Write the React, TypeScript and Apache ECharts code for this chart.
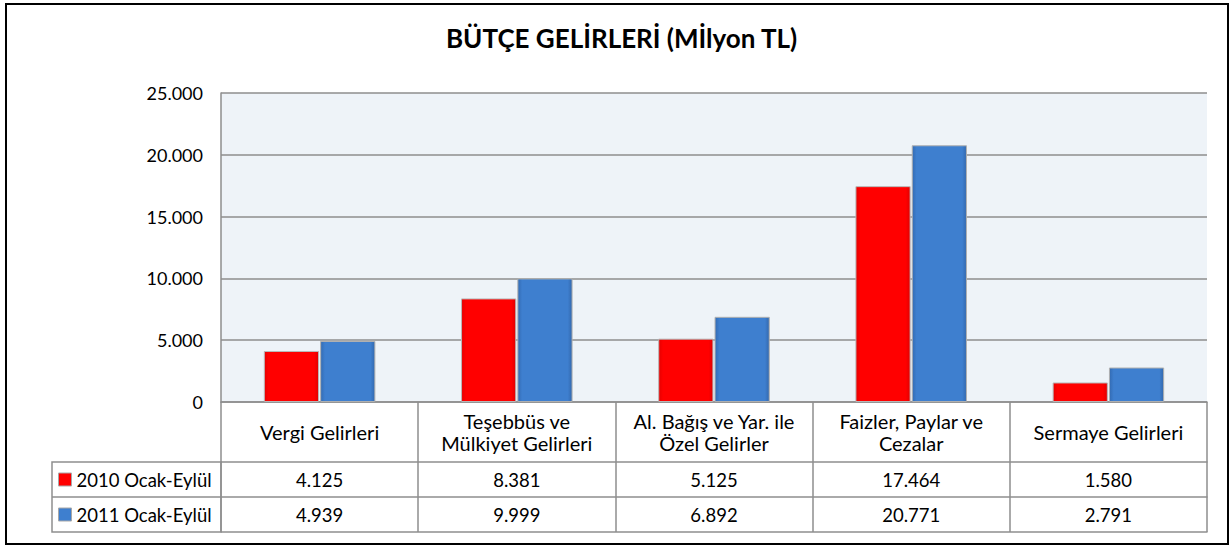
import React, { useEffect, useRef } from "react";
import * as echarts from "echarts";

const TITLE = "BÜTÇE GELİRLERİ (Mİlyon TL)";
const categories = [
  "Vergi Gelirleri",
  "Teşebbüs ve\nMülkiyet Gelirleri",
  "Al. Bağış ve Yar. ile\nÖzel Gelirler",
  "Faizler, Paylar ve\nCezalar",
  "Sermaye Gelirleri",
];
const seriesNames = ["2010 Ocak-Eylül", "2011 Ocak-Eylül"];
const values2010 = [4125, 8381, 5125, 17464, 1580];
const values2011 = [4939, 9999, 6892, 20771, 2791];
const yMin = 0;
const yMax = 25000;
const yInterval = 5000;

const FONT = "Lato, 'Noto Sans', sans-serif";
const GRID_LEFT = 221;
const GRID_RIGHT = 25;
const GRID_TOP = 93;
const GRID_BOTTOM = 144;
const W = 1232;
const H = 546;
const CAT_ROW = 60;
const ROW = 35;
const LINE = "#8E8E8E";

const fmt = (n: number) => String(n).replace(/\B(?=(\d{3})+(?!\d))/g, ".");

export default function App() {
  const ref = useRef<HTMLDivElement>(null);
  useEffect(() => {
    if (!ref.current) return;
    const chart = echarts.init(ref.current, undefined, { renderer: "svg" });
    const zeroY = H - GRID_BOTTOM;
    const row1Top = zeroY + CAT_ROW;
    const row2Top = row1Top + ROW;
    const tableBottom = row2Top + ROW;
    const legendLeft = 52;

    const extraAxis = (data: string[] | null, offset: number) => ({
      type: "category",
      position: "bottom",
      offset,
      data: data ?? categories.map(() => ""),
      axisLine: { show: true, lineStyle: { color: LINE, width: 1.5 } },
      axisTick: { show: false },
      axisLabel: {
        show: !!data,
        interval: 0,
        margin: ROW / 2,
        verticalAlign: "middle",
        color: "#000",
        fontFamily: FONT,
        fontSize: 18.5,
      },
      splitLine: { show: false },
    });

    const bevelRed = new echarts.graphic.LinearGradient(0, 0, 1, 0, [
      { offset: 0, color: "#E60000" },
      { offset: 0.08, color: "#FF0000" },
      { offset: 0.92, color: "#FF0000" },
      { offset: 1, color: "#E00000" },
    ]);
    const bevelBlue = new echarts.graphic.LinearGradient(0, 0, 1, 0, [
      { offset: 0, color: "#336BB3" },
      { offset: 0.08, color: "#3E7FCF" },
      { offset: 0.92, color: "#3E7FCF" },
      { offset: 1, color: "#3368AD" },
    ]);

    chart.setOption({
      animation: false,
      backgroundColor: "#fff",
      title: {
        text: TITLE,
        left: 446,
        top: 25,
        padding: 0,
        textStyle: { fontFamily: FONT, fontSize: 26, fontWeight: "bold", color: "#000" },
      },
      legend: {
        orient: "vertical",
        left: 58,
        top: row1Top + (ROW - 20) / 2,
        padding: 0,
        itemWidth: 13,
        itemHeight: 13,
        itemGap: ROW - 20,
        icon: "rect",
        itemStyle: { borderColor: "#A8A8A8", borderWidth: 1 },
        textStyle: { fontFamily: FONT, fontSize: 18.5, color: "#000", lineHeight: 20 },
        data: seriesNames,
      },
      grid: {
        left: GRID_LEFT,
        right: GRID_RIGHT,
        top: GRID_TOP,
        bottom: GRID_BOTTOM,
        show: true,
        backgroundColor: "#EEF3F8",
        borderWidth: 0,
        containLabel: false,
      },
      xAxis: [
        {
          type: "category",
          position: "bottom",
          data: categories,
          axisLine: { show: true, lineStyle: { color: LINE, width: 1.5 } },
          axisTick: { show: true, length: CAT_ROW + 2 * ROW, lineStyle: { color: LINE, width: 1.5 } },
          axisLabel: {
            interval: 0,
            margin: CAT_ROW / 2,
            verticalAlign: "middle",
            lineHeight: 22,
            color: "#000",
            fontFamily: FONT,
            fontSize: 20,
          },
        },
        extraAxis(values2010.map(fmt), CAT_ROW),
        extraAxis(values2011.map(fmt), CAT_ROW + ROW),
        extraAxis(null, CAT_ROW + 2 * ROW),
      ],
      yAxis: {
        type: "value",
        min: yMin,
        max: yMax,
        interval: yInterval,
        axisLine: { show: true, lineStyle: { color: LINE, width: 1.5 } },
        axisTick: { show: false },
        axisLabel: {
          margin: 18,
          color: "#000",
          fontFamily: FONT,
          fontSize: 18,
          formatter: (v: number) => fmt(v),
        },
        splitLine: { show: true, lineStyle: { color: LINE, width: 1.5 } },
      },
      series: [
        {
          name: seriesNames[0],
          type: "bar",
          data: values2010,
          barWidth: "28%",
          barGap: "2%",
          itemStyle: { color: bevelRed, borderColor: "#B8B8B8", borderWidth: 1 },
        },
        {
          name: seriesNames[1],
          type: "bar",
          data: values2011,
          barWidth: "28%",
          barGap: "2%",
          itemStyle: { color: bevelBlue, borderColor: "#B0B0B0", borderWidth: 1 },
        },
      ],
      graphic: [
        {
          type: "rect",
          shape: { x: legendLeft, y: row1Top, width: GRID_LEFT - legendLeft, height: tableBottom - row1Top },
          style: { fill: "none", stroke: LINE, lineWidth: 1.5 },
          silent: true,
        },
        {
          type: "line",
          shape: { x1: legendLeft, y1: row2Top, x2: GRID_LEFT, y2: row2Top },
          style: { stroke: LINE, lineWidth: 1.5 },
          silent: true,
        },
        {
          type: "rect",
          shape: { x: 6, y: 4, width: W - 10, height: H - 6 },
          style: { fill: "none", stroke: "#000", lineWidth: 2 },
          silent: true,
        },
      ],
    });
    return () => chart.dispose();
  }, []);
  return (
    <div
      ref={ref}
      style={{ position: "absolute", left: 0, top: 0, width: W, height: H }}
    />
  );
}
